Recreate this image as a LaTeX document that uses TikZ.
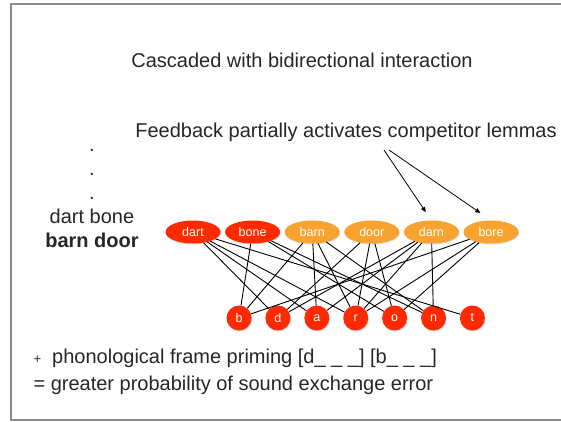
\documentclass[tikz,border=0pt]{standalone}
\usepackage{fontspec}
\setmainfont{Liberation Sans}
\usepackage{tikz}
\usetikzlibrary{arrows.meta, positioning, shapes.geometric, shadows}
\definecolor{lemmared}{HTML}{FF2A00}
\definecolor{lemmaorange}{HTML}{F8A22F}
\definecolor{slidetext}{HTML}{262626}
\definecolor{slideframe}{HTML}{8C8C8C}

\begin{document}
\begin{tikzpicture}[
    x=1pt, y=-1pt,
    every node/.style={text=slidetext},
    word/.style={
      ellipse,
      inner sep=0pt,
      minimum width=55pt,
      minimum height=23pt,
      text=white,
      font=\fontsize{12.5}{13}\selectfont,
      drop shadow={shadow xshift=0.6pt, shadow yshift=-1pt, opacity=0.3}
    },
    phon/.style={
      circle,
      inner sep=0pt,
      minimum size=25pt,
      fill=lemmared,
      text=white,
      font=\fontsize{12.5}{13}\selectfont,
      drop shadow={shadow xshift=0.6pt, shadow yshift=-1pt, opacity=0.3}
    },
    link/.style={draw=black, line width=0.9pt},
    arrow/.style={-{Triangle[length=5pt, width=4.5pt]}, draw=black, line width=0.8pt},
    big/.style={font=\fontsize{20}{24}\selectfont}
  ]
    \useasboundingbox (0,0) rectangle (561,422);
    \draw[slideframe, line width=1.3pt] (561,4) -- (11,4) -- (11,420) -- (561,420);

    \node[big] (title) at (302,60) {Cascaded with bidirectional interaction};
    \node[big] (feedback) at (346,132) {Feedback partially activates competitor lemmas};

    \node[big, align=center, anchor=base] (sentence) at (92,247)
      {.\\.\\.\\dart bone\\\textbf{barn door}};

    \node[word, fill=lemmared] (dart) at (193,232) {dart};
    \node[word, fill=lemmared, right=4.2pt of dart] (bone) {bone};
    \node[word, fill=lemmaorange, right=4.2pt of bone] (barn) {barn};
    \node[word, fill=lemmaorange, right=4.2pt of barn] (door) {door};
    \node[word, fill=lemmaorange, right=4.2pt of door] (darn) {darn};
    \node[word, fill=lemmaorange, right=4.2pt of darn] (bore) {bore};

    \node[phon] (b) at (239,318) {b};
    \node[phon, right=13.5pt of b] (d) {d};
    \node[phon, right=13.5pt of d] (a) {a};
    \node[phon, right=13.5pt of a] (r) {r};
    \node[phon, right=13.5pt of r] (o) {o};
    \node[phon, right=13.5pt of o] (n) {n};
    \node[phon, right=13.5pt of n] (t) {t};

    \draw[link] (dart) -- (d) (dart) -- (a) (dart) -- (r) (dart) -- (t);
    \draw[link] (bone) -- (b) (bone) -- (o) (bone) -- (n);
    \draw[link] (barn) -- (b) (barn) -- (a) (barn) -- (r) (barn) -- (n);
    \draw[link] (door) -- (d) (door) -- (o) (door) -- (r);
    \draw[link] (darn) -- (d) (darn) -- (a) (darn) -- (r) (darn) -- (n);
    \draw[link] (bore) -- (b) (bore) -- (o) (bore) -- (r);

    \coordinate (fbleft) at (384,150);
    \coordinate (fbright) at (389,150);
    \draw[arrow, shorten >=10pt] (fbleft) -- (darn.north);
    \draw[arrow, shorten >=13pt] (fbright) -- (bore.north);

    \node[big, align=left, anchor=base west, font=\fontsize{20}{27}\selectfont] (summary) at (30,390)
      {{\fontsize{13}{13}\selectfont+}\ \ phonological frame priming [d\_ \_ \_] [b\_ \_ \_]\\
       = greater probability of sound exchange error};
\end{tikzpicture}
\end{document}
